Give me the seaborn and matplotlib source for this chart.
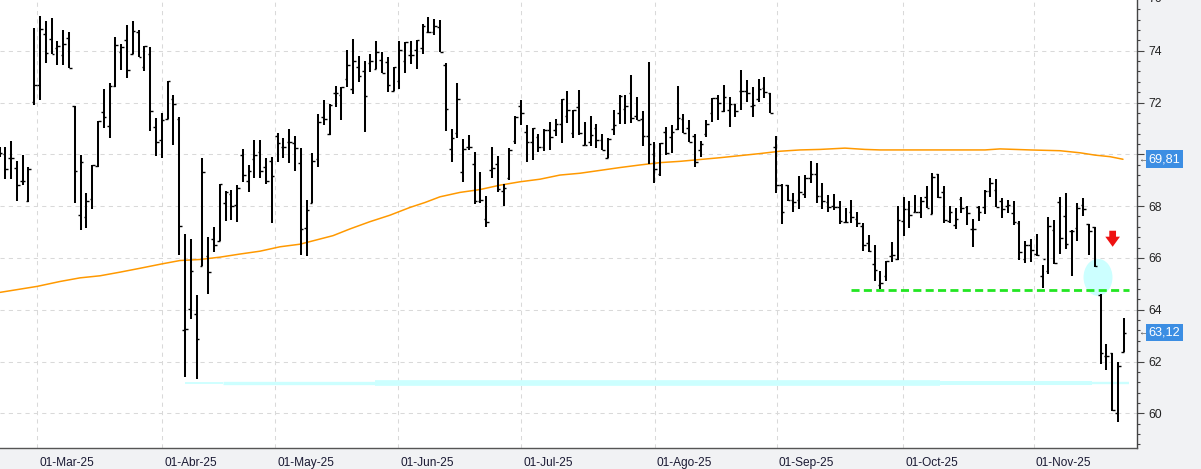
import numpy as np
import matplotlib
matplotlib.use("Agg")
import matplotlib.pyplot as plt
import matplotlib.transforms as mtrans
from matplotlib.patches import Ellipse, Polygon
from matplotlib.ticker import MultipleLocator, FuncFormatter
import seaborn as sns

# ---------------- data (daily OHLC, one bar per trading day) ----------------
opens = [
    70.1, 70.0, 69.85, 69.46, 68.96, 68.19, 72.04, 72.69, 74.65, 74.46,
    74.1, 73.82, 74.51, 71.85, 67.65, 67.58, 68.27, 69.54, 71.62, 71.08,
    72.62, 73.96, 74.42, 73.88, 74.74, 73.38, 73.86, 71.04, 70.54, 71.35,
    72.13, 71.38, 63.23, 64.04, 63.85, 65.69, 66.06, 66.73, 66.67, 68.13,
    68.46, 68.05, 69.96, 68.97, 69.81, 70.08, 69.5, 69.76, 70.72, 70.28,
    70.46, 70.42, 69.65, 67.15, 68.12, 69.81, 71.46, 70.77, 72.35, 72.31,
    72.92, 72.54, 73.38, 73.23, 73.51, 73.29, 73.65, 73.58, 72.46, 72.85,
    73.59, 73.82, 74.04, 74.1, 74.72, 74.72, 74.9, 73.46, 70.19, 70.81,
    69.31, 70.28, 69.62, 68.18, 67.5, 69.38, 69.62, 68.59, 69.1, 70.51,
    71.86, 70.86, 70.46, 70.67, 70.28, 70.94, 70.94, 71.19, 71.47, 70.81,
    71.82, 70.36, 70.46, 71.01, 70.54, 69.87, 70.96, 71.58, 71.77, 72.35,
    71.47, 71.38, 70.69, 70.0, 69.23, 70.86, 70.67, 70.96, 71.35, 71.03,
    70.69, 70.15, 70.77, 71.6, 72.18, 71.69, 71.73, 71.96, 72.46, 72.46,
    71.88, 72.15, 72.58, 72.38, 70.27, 68.81, 68.81, 68.23, 68.23, 68.46,
    69.08, 69.24, 68.4, 68.17, 68.0, 67.97, 67.4, 67.77, 67.5, 67.23,
    66.58, 65.77, 64.94, 65.31, 66.06, 65.94, 67.42, 67.88, 67.78, 67.77,
    68.35, 67.69, 69.23, 68.54, 67.44, 67.28, 68.27, 67.97, 67.12, 67.97,
    67.95, 68.59, 68.63, 68.21, 68.0, 67.72, 67.35, 65.94, 66.5, 66.15,
    65.31, 65.51, 67.08, 68.17, 67.63, 67.05, 67.15, 68.05, 67.31, 67.21,
    64.55, 62.23, 62.31, 60.0, 62.38,
]
highs = [
    70.3, 70.28, 70.51, 69.74, 69.97, 69.51, 74.87, 75.36, 75.13, 75.28,
    74.38, 74.81, 74.74, 71.85, 69.97, 68.49, 69.59, 71.28, 72.51, 72.74,
    74.55, 74.28, 75.0, 75.13, 74.81, 74.17, 74.13, 71.4, 71.59, 72.82,
    72.31, 71.46, 66.92, 66.73, 64.55, 69.85, 66.81, 67.21, 68.86, 68.59,
    68.63, 68.82, 70.19, 69.58, 70.54, 70.54, 69.85, 69.9, 70.83, 70.64,
    70.99, 70.71, 70.26, 68.24, 70.05, 71.54, 72.09, 71.94, 72.63, 72.59,
    74.01, 74.44, 73.78, 73.62, 73.88, 74.38, 73.97, 73.77, 73.38, 74.36,
    74.33, 74.36, 74.42, 75.04, 75.32, 75.23, 75.19, 73.54, 70.96, 72.74,
    70.58, 70.74, 70.09, 69.32, 68.4, 70.28, 69.94, 68.87, 70.24, 71.47,
    72.08, 71.15, 71.03, 70.77, 70.96, 71.24, 71.38, 72.12, 72.44, 71.71,
    72.47, 71.24, 71.47, 71.18, 70.79, 70.64, 71.71, 72.28, 72.28, 73.05,
    72.2, 71.67, 73.55, 70.47, 70.42, 71.06, 71.13, 72.63, 71.54, 71.31,
    70.79, 70.51, 71.33, 72.17, 72.31, 72.67, 72.23, 71.96, 73.24, 72.88,
    72.59, 72.92, 72.97, 72.38, 70.71, 68.87, 68.82, 68.51, 69.17, 69.22,
    69.73, 69.65, 68.88, 68.44, 68.47, 68.21, 67.94, 68.24, 67.78, 67.35,
    66.88, 66.51, 65.51, 65.9, 66.63, 67.99, 68.36, 68.21, 68.44, 68.37,
    68.78, 69.28, 69.23, 68.78, 68.01, 67.94, 68.36, 68.01, 67.51, 68.0,
    68.63, 69.09, 69.04, 68.32, 68.23, 68.21, 67.44, 66.67, 66.74, 66.94,
    65.73, 67.59, 67.47, 68.37, 68.49, 67.08, 68.13, 68.32, 67.31, 67.21,
    64.6, 62.67, 62.33, 62.0, 63.69,
]
lows = [
    69.9, 69.06, 69.06, 68.18, 68.83, 68.15, 71.91, 72.08, 73.53, 73.87,
    73.46, 73.46, 73.33, 68.14, 67.08, 67.14, 67.87, 69.51, 71.03, 70.64,
    72.6, 73.24, 72.95, 73.88, 73.77, 73.23, 70.92, 69.92, 69.85, 71.35,
    70.37, 66.1, 61.41, 63.65, 61.31, 65.69, 64.62, 66.22, 66.64, 67.41,
    67.45, 67.37, 68.95, 68.53, 69.1, 69.1, 68.87, 67.33, 69.72, 69.87,
    69.68, 69.37, 66.13, 66.06, 68.12, 69.53, 71.12, 70.73, 71.83, 71.33,
    72.6, 72.33, 72.81, 70.87, 73.18, 73.29, 73.14, 72.41, 72.44, 72.51,
    73.14, 73.49, 73.29, 73.87, 74.68, 74.62, 73.96, 70.92, 69.72, 70.64,
    68.95, 70.18, 68.08, 68.14, 67.18, 69.1, 68.56, 67.99, 69.0, 70.38,
    71.14, 69.72, 69.77, 70.1, 70.13, 70.18, 70.72, 70.45, 71.22, 70.62,
    70.74, 70.35, 70.33, 70.26, 70.18, 69.87, 70.76, 71.18, 71.18, 71.22,
    71.31, 70.32, 69.62, 68.91, 69.17, 69.97, 70.05, 70.95, 70.83, 70.49,
    69.53, 69.91, 70.67, 71.26, 71.33, 71.64, 71.06, 71.45, 71.72, 72.03,
    71.45, 72.03, 72.18, 71.58, 68.49, 67.31, 68.18, 67.79, 67.9, 68.31,
    68.91, 68.14, 67.87, 67.79, 67.85, 67.31, 67.35, 67.36, 67.21, 66.26,
    66.22, 65.1, 64.79, 65.1, 65.83, 65.92, 66.83, 67.14, 67.76, 67.56,
    67.92, 67.69, 68.33, 67.35, 67.33, 67.13, 67.72, 67.26, 66.44, 67.44,
    67.69, 68.37, 67.95, 67.54, 67.72, 67.27, 65.92, 65.79, 65.85, 66.09,
    64.85, 65.36, 65.77, 66.15, 66.35, 65.29, 66.64, 67.63, 66.1, 65.64,
    61.92, 61.69, 60.1, 59.68, 62.37,
]
closes = [
    70.04, 69.42, 69.85, 68.81, 68.96, 69.42, 72.69, 74.85, 73.92, 73.88,
    74.17, 74.27, 73.33, 69.35, 69.69, 68.21, 69.59, 71.28, 71.46, 72.62,
    74.23, 74.15, 73.27, 74.77, 73.77, 74.17, 71.67, 70.46, 71.32, 72.82,
    71.96, 67.23, 63.27, 65.51, 62.88, 69.31, 65.47, 66.5, 68.86, 68.54,
    68.0, 68.71, 69.21, 69.35, 69.96, 69.35, 68.96, 69.17, 70.42, 70.28,
    70.46, 70.24, 67.12, 67.85, 69.73, 71.23, 71.38, 71.92, 72.35, 72.59,
    73.44, 73.62, 73.03, 72.27, 73.62, 73.96, 73.14, 72.69, 73.37, 74.04,
    74.33, 73.82, 74.42, 74.97, 74.72, 74.97, 73.96, 71.77, 70.63, 72.15,
    70.19, 70.28, 68.21, 68.23, 67.4, 69.46, 68.65, 68.69, 70.15, 71.45,
    71.58, 70.46, 71.0, 70.28, 70.94, 70.67, 71.19, 72.12, 71.71, 71.71,
    70.81, 70.36, 70.74, 70.54, 70.18, 70.59, 71.15, 72.27, 71.86, 71.42,
    71.31, 70.69, 70.38, 69.42, 70.42, 70.06, 70.85, 71.42, 70.83, 70.49,
    69.72, 70.38, 71.18, 72.17, 71.97, 72.23, 71.96, 71.69, 72.46, 72.35,
    71.92, 72.54, 72.42, 71.58, 68.83, 67.77, 68.23, 68.15, 68.55, 69.08,
    69.24, 68.4, 68.19, 67.97, 67.97, 67.41, 67.37, 67.58, 67.33, 66.5,
    66.28, 65.55, 65.04, 65.9, 66.13, 67.47, 67.88, 67.65, 67.78, 68.19,
    67.92, 69.13, 68.36, 67.46, 67.78, 67.5, 67.91, 67.73, 67.12, 67.77,
    68.59, 68.91, 67.95, 67.9, 68.03, 67.37, 66.21, 66.5, 66.32, 66.13,
    65.95, 67.22, 65.8, 66.77, 66.54, 67.05, 67.92, 67.9, 67.03, 65.68,
    62.33, 62.23, 60.13, 61.83, 63.12,
]

# moving average, read at sample bar positions
ma_pos = [0.09, 6.47, 10.44, 13.89, 17.34, 20.79, 24.24, 28.04, 31.15, 34.6,
          38.05, 41.5, 44.95, 48.4, 51.85, 55.3, 57.55, 60.48, 63.93, 67.38,
          70.84, 73.42, 76.01, 79.46, 82.91, 86.37, 89.82, 93.27, 96.72, 100.17,
          103.62, 107.07, 110.53, 113.98, 117.43, 120.88, 124.33, 127.78, 131.23, 134.68,
          138.14, 141.59, 145.9, 149.35, 151.94, 162.3, 170.06, 172.65, 177.82, 183.0,
          186.45, 189.04, 191.63, 193.87]
ma_val = [64.67, 64.9, 65.09, 65.23, 65.31, 65.45, 65.6, 65.77, 65.9, 65.94,
          66.03, 66.15, 66.26, 66.43, 66.53, 66.73, 66.86, 67.12, 67.4, 67.65,
          67.95, 68.14, 68.36, 68.53, 68.64, 68.81, 68.94, 69.04, 69.2, 69.27,
          69.38, 69.49, 69.59, 69.68, 69.73, 69.8, 69.87, 69.95, 70.03, 70.12,
          70.17, 70.19, 70.24, 70.19, 70.17, 70.17, 70.17, 70.21, 70.17, 70.14,
          70.06, 69.97, 69.91, 69.81]

month_labels = ["01-Mar-25", "01-Abr-25", "01-May-25", "01-Jun-25", "01-Jul-25",
                "01-Ago-25", "01-Sep-25", "01-Oct-25", "01-Nov-25"]
month_pos = [6.52, 28.09, 47.59, 68.82, 90.04, 113.06, 134.11, 155.96, 178.46]

support_level = 64.75          # green dashed line
support_span = (146.94, 194.86)
low_level = 61.18               # cyan hand-drawn line
# ---------------------------------------------------------------------------

sns.set_style("white")
plt.rcParams["font.family"] = ["Liberation Sans", "DejaVu Sans"]

W, H = 1201, 469
fig = plt.figure(figsize=(W / 100, H / 100), dpi=100, facecolor="#f1f2f4")
ax = fig.add_axes([0, 21 / H, 1137 / W, 448 / H])
ax.set_facecolor("white")

x = np.arange(len(opens))
ax.set_xlim(0.085, 196.29)
ax.set_ylim(58.66, 75.96)

# grid
ax.set_xticks(month_pos)
ax.yaxis.set_major_locator(MultipleLocator(2))
ax.yaxis.set_minor_locator(MultipleLocator(0.4))
ax.grid(True, which="major", color="#d9d9d9", lw=0.75, ls=(0, (4, 4)), zorder=0)

# cyan hand-drawn horizontal line (varying thickness)
for (a, b), w in [((32.0, 38.57), 1.3), ((38.57, 64.8), 2.4), ((64.8, 162.3), 4.1),
                  ((162.3, 188.5), 2.9), ((188.5, 194.9), 1.7)]:
    ax.plot([a, b], [low_level, low_level], color="#ccffff", lw=w,
            solid_capstyle="butt", zorder=1.5)

# cyan circle
ax.add_patch(Ellipse((189.56, 65.25), 5.0, 1.43, facecolor="#ccffff",
                     edgecolor="none", zorder=2.5))

# moving average
sns.lineplot(x=ma_pos, y=ma_val, ax=ax, color="#ff9900", lw=1.1, zorder=2)

# OHLC bars
ax.vlines(x, lows, highs, color="black", lw=1.45, zorder=3)
ax.hlines(opens, x - 0.45, x, color="black", lw=1.0, zorder=3)
ax.hlines(closes, x, x + 0.45, color="black", lw=1.0, zorder=3)

# green support line
ax.plot(list(support_span), [support_level, support_level], color="#22e622",
        lw=2.0, ls=(0, (2.9, 1.55)), zorder=4)

# red down arrow
arrow = [(191.51, 67.05), (192.67, 67.05), (192.67, 66.82), (193.35, 66.82),
         (192.09, 66.43), (190.82, 66.82), (191.51, 66.82)]
ax.add_patch(Polygon(arrow, closed=True, facecolor="#ee1111", edgecolor="none", zorder=5))

# spines
for s in ("left", "top"):
    ax.spines[s].set_visible(False)
ax.spines["right"].set_color("#444444")
ax.spines["right"].set_linewidth(1.0)
ax.spines["bottom"].set_color("#555555")
ax.spines["bottom"].set_linewidth(1.0)

# y axis on the right (label at 70 is covered by the MA value box)
ax.yaxis.tick_right()
ax.yaxis.set_major_formatter(FuncFormatter(lambda v, p: "" if abs(v - 70) < 1e-6 else f"{v:.0f}"))
ax.tick_params(axis="y", which="major", direction="out", length=5, width=0.8,
               color="#444444", pad=3, labelsize=8.8, labelcolor="#222222")
ax.tick_params(axis="y", which="minor", direction="out", length=2.5, width=0.8,
               color="#444444")
ax.tick_params(axis="x", which="major", direction="out", length=6, width=0.8,
               color="#444444", labelbottom=False)
ax.set_xlabel("")
ax.set_ylabel("")

ytr = mtrans.blended_transform_factory(ax.transAxes, ax.transData)
ax.text(1.0, 76, "76", transform=ytr + mtrans.ScaledTranslation(11 / 100, 0, fig.dpi_scale_trans),
        ha="left", va="center", fontsize=8.8, color="#222222", clip_on=False)

# month labels
xtr = mtrans.blended_transform_factory(ax.transData, ax.transAxes)
for p, lab in zip(month_pos, month_labels):
    ax.text(p, 0, lab, transform=xtr + mtrans.ScaledTranslation(2 / 100, -18 / 100, fig.dpi_scale_trans),
            ha="left", va="baseline", fontsize=8.6, color="#1a1a33", clip_on=False)

# value labels
for val in (ma_val[-1], closes[-1]):
    txt = f"{val:.2f}".replace(".", ",")
    ax.text(1.0, val, txt, transform=ytr + mtrans.ScaledTranslation(11.5 / 100, 0, fig.dpi_scale_trans),
            ha="left", va="center", fontsize=9.2, color="white", clip_on=False, zorder=6,
            bbox=dict(boxstyle="square,pad=0.22", facecolor="#3c8ee3", edgecolor="none"))
    ax.text(1.0, val, "←", transform=ytr + mtrans.ScaledTranslation(1 / 100, 0, fig.dpi_scale_trans),
            ha="left", va="center", fontsize=7, color="#555555", clip_on=False)

fig.savefig("out.png", dpi=100, facecolor=fig.get_facecolor())
